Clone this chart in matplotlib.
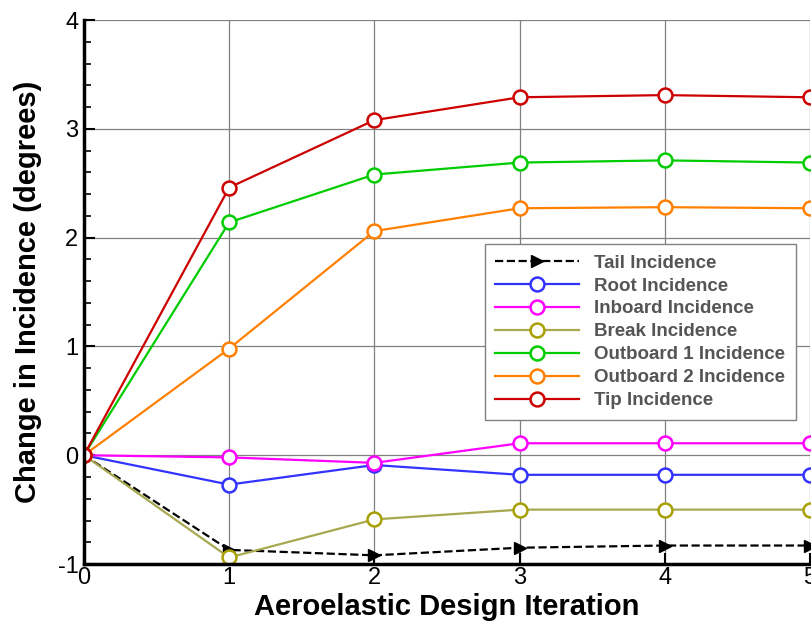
import numpy as np
import matplotlib.pyplot as plt
from matplotlib.ticker import MultipleLocator

plt.rcParams['font.family'] = ['Liberation Sans', 'DejaVu Sans']
plt.rcParams['axes.unicode_minus'] = False

iteration = [0, 1, 2, 3, 4, 5]

tail = [0.0, -0.87, -0.92, -0.85, -0.83, -0.83]
root = [0.0, -0.27, -0.09, -0.18, -0.18, -0.18]
inboard = [0.0, -0.02, -0.07, 0.11, 0.11, 0.11]
brk = [0.0, -0.94, -0.59, -0.50, -0.50, -0.50]
outboard1 = [0.0, 2.14, 2.58, 2.69, 2.71, 2.69]
outboard2 = [0.0, 0.98, 2.06, 2.27, 2.28, 2.27]
tip = [0.0, 2.46, 3.08, 3.29, 3.31, 3.29]

fig = plt.figure(figsize=(8.12, 6.26), dpi=100)
ax = fig.add_axes([0.1034, 0.099, 0.8941, 0.869])

ax.plot(iteration, tail, color='black', linestyle='--', linewidth=1.6,
        marker='>', markersize=9, markerfacecolor='black', label='Tail Incidence')

circ = dict(marker='o', markersize=10, markerfacecolor='white',
            markeredgewidth=1.8, linewidth=1.6)
ax.plot(iteration, root, color='#3333ff', label='Root Incidence', **circ)
ax.plot(iteration, inboard, color='#ff00ff', label='Inboard Incidence', **circ)
ax.plot(iteration, brk, color='#a8a850', markeredgecolor='#a8a000',
        label='Break Incidence', **circ)
ax.plot(iteration, outboard1, color='#00cc00', label='Outboard 1 Incidence', **circ)
ax.plot(iteration, outboard2, color='#ff8000', label='Outboard 2 Incidence', **circ)
ax.plot(iteration, tip, color='#cc0000', label='Tip Incidence', **circ)

ax.set_xlim(0, 5)
ax.set_ylim(-1, 4)
ax.xaxis.set_major_locator(MultipleLocator(1))
ax.yaxis.set_major_locator(MultipleLocator(1))
ax.yaxis.set_minor_locator(MultipleLocator(0.2))
ax.tick_params(axis='both', which='major', direction='in', length=8, width=1.5,
               labelsize=17, pad=4)
ax.tick_params(axis='y', which='minor', direction='in', length=5, width=1.2)
ax.tick_params(axis='x', pad=2)

ax.grid(True, which='major', color='#808080', linewidth=0.9)
ax.set_axisbelow(True)
for side in ['top', 'right']:
    ax.spines[side].set_visible(False)
for side in ['left', 'bottom']:
    ax.spines[side].set_linewidth(2.5)

ax.set_xlabel('Aeroelastic Design Iteration', fontsize=21, fontweight='bold', labelpad=3)
ax.set_ylabel('Change in Incidence (degrees)', fontsize=21, fontweight='bold', labelpad=11)

leg = ax.legend(loc='upper left', bbox_to_anchor=(0.552, 0.588),
                handlelength=4.5, labelspacing=0.31, borderpad=0.55,
                handletextpad=0.8, borderaxespad=0, fancybox=False, framealpha=1,
                prop={'weight': 'bold', 'size': 13.5})
leg.get_frame().set_edgecolor('#808080')
leg.get_frame().set_linewidth(1.0)
for t in leg.get_texts():
    t.set_color('#555555')

fig.savefig('out.png', dpi=100)
